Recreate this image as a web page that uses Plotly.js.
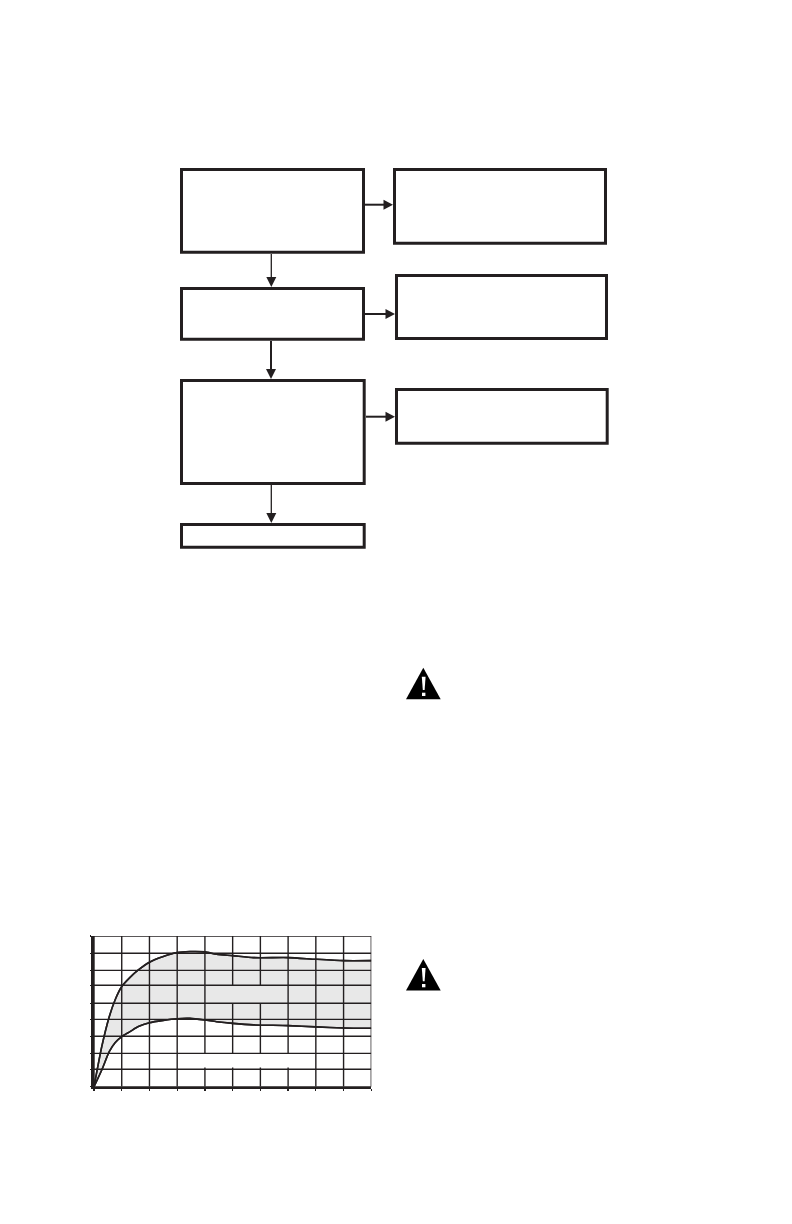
<!DOCTYPE html>
<html>
<head>
<meta charset="utf-8">
<script src="https://cdn.plot.ly/plotly-3.0.1.min.js"></script>
<style>html,body{margin:0;padding:0;background:#fff}</style>
</head>
<body>
<div id="chart" style="width:792px;height:1224px"></div>
<script>
// ---- chart values ----
var xValues = [0,0.28,0.55,0.76,1,1.3,1.6,2,2.5,3,3.46,4,4.42,5,5.75,7,8,9,10];
var upperCurve = [0,2.39,4.18,5.18,5.98,6.53,6.97,7.43,7.77,8.01,8.07,8.05,7.91,7.83,7.71,7.71,7.61,7.53,7.53];
var lowerCurve = [0,1.0,2.09,2.63,2.99,3.29,3.59,3.82,3.96,4.06,4.08,3.98,3.88,3.78,3.69,3.65,3.57,3.51,3.49];
var gridX = [0,1,2,3,4,5,6,7,8,9,10];
var gridY = [0,1.04,1.99,3.01,4.02,4.98,6.06,6.95,7.97,9];
// vertical grid breaks: [x line, from y, to y]
var gridBreaks = [[4,1.15,1.99],[5,1.15,1.99],[6,1.15,1.99],[7,1.15,1.99],[5,4.98,6.06],[6,4.98,6.06]];

// ---- page layout (pixels) ----
var W = 792, H = 1224, INK = '#231f20';
var plotBox = {left:94, right:371.3, top:936, bottom:1086.7};
var boxes = [
  [180,365,168,253.7],[393,607,168,244.7],
  [180,365,287,340.7],[395,608,274,340],
  [180,365.7,379,485],[395,608.7,388,444.7],
  [180,365.7,523,548.7]
];
var rightArrows = [[365,393,204.7],[365,395,314],[366,395,416.7]];
var downArrows = [[271.3,254,287,1.3],[271,341,379,2],[271.3,485,523,1.3]];
var warningTops = [667.7,959];

function px(x){return (x/W).toFixed(5);}
function py(y){return (1-y/H).toFixed(5);}
function pathShape(points, fill){
  var d = points.map(function(p,i){return (i?'L':'M')+px(p[0])+','+py(p[1]);}).join(' ')+' Z';
  return {type:'path',xref:'paper',yref:'paper',path:d,fillcolor:fill,line:{width:0},layer:'above'};
}
function lineShape(x0,y0,x1,y1,w){
  return {type:'line',xref:'paper',yref:'paper',x0:px(x0),y0:py(y0),x1:px(x1),y1:py(y1),
          line:{color:INK,width:w},layer:'above'};
}
var shapes = [];
boxes.forEach(function(b){
  shapes.push({type:'rect',xref:'paper',yref:'paper',x0:px(b[0]+1.5),x1:px(b[1]-1.5),
    y0:py(b[2]+1.5),y1:py(b[3]-1.5),line:{color:INK,width:3},fillcolor:'rgba(0,0,0,0)',layer:'above'});
});
rightArrows.forEach(function(a){
  shapes.push(lineShape(a[0],a[2],a[1]-8,a[2],2));
  shapes.push(pathShape([[a[1],a[2]],[a[1]-9.5,a[2]-5],[a[1]-9.5,a[2]+5]],INK));
});
downArrows.forEach(function(a){
  shapes.push(lineShape(a[0],a[1],a[0],a[2]-8,a[3]));
  shapes.push(pathShape([[a[0],a[2]],[a[0]-5,a[2]-10],[a[0]+5,a[2]-10]],INK));
});
warningTops.forEach(function(t){
  shapes.push(pathShape([[423.3,t],[440.7,t+31.5],[406,t+31.5]],'#000'));
  shapes.push(pathShape([[421.8,t+9],[425.6,t+9],[424.6,t+22.3],[422.8,t+22.3]],'#fff'));
  shapes.push(pathShape([[422,t+25],[425.4,t+25],[425.4,t+28.3],[422,t+28.3]],'#fff'));
});

// vertical grid segments, broken where the reference breaks them
var vx = [], vy = [];
gridX.forEach(function(g){
  var cuts = gridBreaks.filter(function(b){return b[0]===g;})
                       .sort(function(a,b){return a[1]-b[1];});
  var start = gridY[0];
  cuts.forEach(function(c){
    vx.push(g,g,null); vy.push(start,c[1],null); start = c[2];
  });
  vx.push(g,g,null); vy.push(start,gridY[gridY.length-1],null);
});
var hx = [], hy = [];
gridY.forEach(function(g){
  hx.push(gridX[0],gridX[gridX.length-1],null); hy.push(g,g,null);
});

var curveLine = {color:INK,width:1.6,shape:'spline',smoothing:0.6};
var traces = [
  {x:xValues,y:lowerCurve,mode:'lines',line:curveLine,hoverinfo:'skip',showlegend:false},
  {x:xValues,y:upperCurve,mode:'lines',line:curveLine,fill:'tonexty',fillcolor:'#e8e8e8',hoverinfo:'skip',showlegend:false},
  {x:vx,y:vy,mode:'lines',line:{color:INK,width:1.4},hoverinfo:'skip',showlegend:false,connectgaps:false},
  {x:hx,y:hy,mode:'lines',line:{color:INK,width:1.4},hoverinfo:'skip',showlegend:false,connectgaps:false},
  {x:xValues,y:lowerCurve,mode:'lines',line:curveLine,hoverinfo:'skip',showlegend:false},
  {x:xValues,y:upperCurve,mode:'lines',line:curveLine,hoverinfo:'skip',showlegend:false}
];

var layout = {
  width:W,height:H,autosize:false,
  margin:{l:0,r:0,t:0,b:0,pad:0},
  paper_bgcolor:'#fff',plot_bgcolor:'#fff',showlegend:false,
  xaxis:{domain:[plotBox.left/W,plotBox.right/W],range:[0,10],tickvals:gridX,showticklabels:false,
    showgrid:false,zeroline:false,ticks:'outside',ticklen:2,tickwidth:1.3,tickcolor:INK,
    showline:true,linecolor:INK,linewidth:2.6,fixedrange:true},
  yaxis:{domain:[1-plotBox.bottom/H,1-plotBox.top/H],range:[0,9],tickvals:gridY,showticklabels:false,
    showgrid:false,zeroline:false,ticks:'outside',ticklen:1,tickwidth:1.3,tickcolor:INK,
    showline:true,linecolor:INK,linewidth:2.6,fixedrange:true},
  shapes:shapes
};
Plotly.newPlot('chart',traces,layout,{displayModeBar:false,staticPlot:true});
</script>
</body>
</html>
